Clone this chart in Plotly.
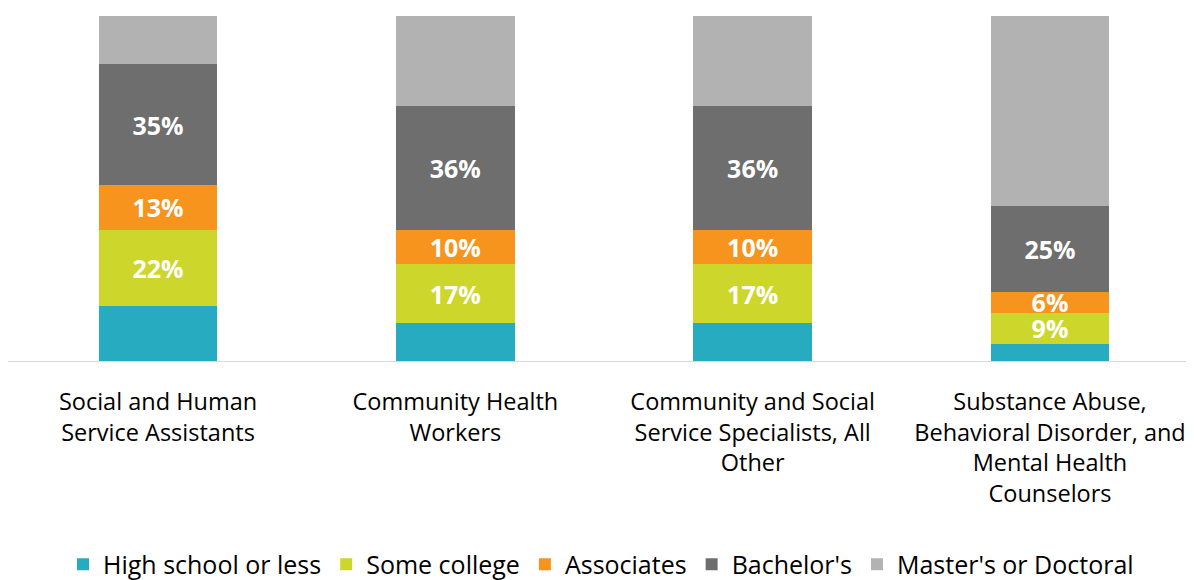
import plotly.graph_objects as go

categories = [
    "Social and Human<br>Service Assistants",
    "Community Health<br>Workers",
    "Community and Social<br>Service Specialists, All<br>Other",
    "Substance Abuse,<br>Behavioral Disorder, and<br>Mental Health<br>Counselors",
]
series_names = ["High school or less", "Some college", "Associates", "Bachelor's", "Master's or Doctoral"]
high_school = [16, 11, 11, 5]
some_college = [22, 17, 17, 9]
associates = [13, 10, 10, 6]
bachelors = [35, 36, 36, 25]
masters = [14, 26, 26, 55]
show_label = [False, True, True, True, False]
colors = ["#27ABC1", "#CDD62B", "#F7941E", "#6D6E6D", "#B1B2B1"]

series = [high_school, some_college, associates, bachelors, masters]

fig = go.Figure()
for name, vals, col, lab in zip(series_names, series, colors, show_label):
    fig.add_trace(go.Bar(
        name=name,
        x=list(range(len(categories))),
        y=vals,
        marker=dict(color=col, line=dict(width=0)),
        text=[f"{v}%" for v in vals] if lab else None,
        textposition="inside" if lab else "none",
        insidetextanchor="middle",
        textangle=0,
        textfont=dict(family="Open Sans", size=25, color="white", weight="bold"),
        width=0.4,
        hoverinfo="skip",
    ))

# page body has an 8px default margin, so the figure is 8px smaller on each axis
fig.update_layout(
    barmode="stack",
    width=1186,
    height=572,
    margin=dict(l=0, r=0, t=8, b=219, autoexpand=False),
    plot_bgcolor="white",
    paper_bgcolor="white",
    font=dict(family="Open Sans", size=23.5, color="#000000"),
    uniformtext=dict(minsize=25, mode="show"),
    showlegend=True,
    legend=dict(
        orientation="h",
        x=0.5, xanchor="center",
        y=-0.590, yanchor="middle",
        font=dict(family="Open Sans", size=25, color="#000000"),
        traceorder="normal",
        itemwidth=30,
    ),
)
fig.update_xaxes(
    range=[-0.5045, 3.4843],
    tickmode="array",
    tickvals=list(range(len(categories))),
    ticktext=categories,
    showline=True, linecolor="#D9D9D9", linewidth=1,
    showgrid=False, zeroline=False, ticks="", tickfont=dict(size=23.5),
    ticklabelstandoff=20,
    ticklabeloverflow="allow",
)
fig.update_yaxes(range=[0, 100], visible=False, showgrid=False)

fig.write_html("out.html")
